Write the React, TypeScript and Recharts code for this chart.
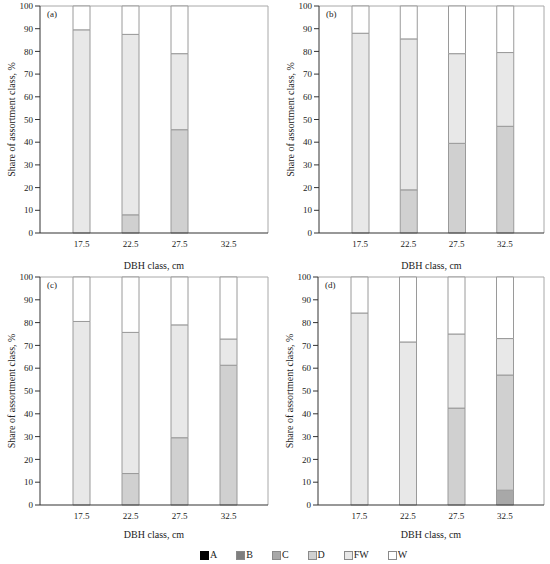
import React from "react";
import { BarChart, Bar, XAxis, YAxis, CartesianGrid } from "recharts";

const categories = ["17.5", "22.5", "27.5", "32.5"];
const seriesNames = ["A", "B", "C", "D", "FW", "W"];
const seriesColors = ["#000000", "#7f7f7f", "#a8a8a8", "#d0d0d0", "#e8e8e8", "#ffffff"];
const yTicks = [0, 10, 20, 30, 40, 50, 60, 70, 80, 90, 100];

// (a)
const aA = [0, 0, 0, 0];
const aB = [0, 0, 0, 0];
const aC = [0, 0, 0, 0];
const aD = [0, 8, 45.5, 0];
const aFW = [89.5, 79.5, 33.5, 0];
const aW = [10.5, 12.5, 21, 0];

// (b)
const bA = [0, 0, 0, 0];
const bB = [0, 0, 0, 0];
const bC = [0, 0, 0, 0];
const bD = [0, 19, 39.5, 47];
const bFW = [88, 66.5, 39.5, 32.5];
const bW = [12, 14.5, 21, 20.5];

// (c)
const cA = [0, 0, 0, 0];
const cB = [0, 0, 0, 0];
const cC = [0, 0, 0, 0];
const cD = [0, 13.8, 29.5, 61.3];
const cFW = [80.5, 61.9, 49.5, 11.5];
const cW = [19.5, 24.3, 21, 27.2];

// (d)
const dA = [0, 0, 0, 0];
const dB = [0, 0, 0, 0];
const dC = [0, 0, 0, 6.5];
const dD = [0, 0, 42.5, 50.5];
const dFW = [84.2, 71.5, 32.5, 16];
const dW = [15.8, 28.5, 25, 27];

const FONT = '"Liberation Serif", "DejaVu Serif", serif';
const TXT = "#222";

const makeRows = (cols: number[][]) =>
  categories.map((dbh, i) => {
    const row: Record<string, number | string> = { dbh };
    seriesNames.forEach((s, k) => {
      row[s] = cols[k][i];
    });
    return row;
  });

interface PanelProps {
  tag: string;
  rows: Record<string, number | string>[];
  left: number;
  top: number;
  margin: { top: number; right: number; left: number; bottom: number };
  xHeight: number;
  xLabelOffset: number;
}

function Panel({ tag, rows, left, top, margin, xHeight, xLabelOffset }: PanelProps) {
  return (
    <div style={{ position: "absolute", left, top, width: 275, height: 272 }}>
      <BarChart width={275} height={272} data={rows} margin={margin} barSize={17}>
        {/* light frame on top and right of the plot */}
        <CartesianGrid
          stroke="#a8a8a8"
          horizontalCoordinatesGenerator={({ offset }: any) => [offset.top]}
          verticalCoordinatesGenerator={({ offset }: any) => [offset.left + offset.width]}
        />
        <XAxis
          dataKey="dbh"
          height={xHeight}
          padding={{ left: 17, right: 15 }}
          tickLine={false}
          axisLine={{ stroke: "#333", strokeWidth: 1.2 }}
          tick={{ fontFamily: FONT, fontSize: 9, fill: TXT }}
          label={{
            value: "DBH class, cm",
            position: "insideBottom",
            offset: xLabelOffset,
            style: { fontFamily: FONT, fontSize: 10, fill: TXT },
          }}
        />
        <YAxis
          width={40}
          domain={[0, 100]}
          ticks={yTicks}
          interval={0}
          tickSize={5}
          tickLine={{ stroke: "#333" }}
          axisLine={{ stroke: "#333" }}
          tick={{ fontFamily: FONT, fontSize: 9, fill: TXT }}
          label={{
            value: "Share of assortment class, %",
            angle: -90,
            position: "insideLeft",
            offset: 11,
            style: { textAnchor: "middle", fontFamily: FONT, fontSize: 10, fill: TXT },
          }}
        />
        {seriesNames.map((s, k) => (
          <Bar
            key={s}
            dataKey={s}
            stackId="st"
            fill={seriesColors[k]}
            stroke="#9a9a9a"
            strokeWidth={1}
            isAnimationActive={false}
          />
        ))}
      </BarChart>
      <div
        style={{
          position: "absolute",
          left: 47 + margin.left,
          top: margin.top + 3,
          fontFamily: FONT,
          fontSize: 9,
          lineHeight: "11px",
          color: TXT,
        }}
      >
        {tag}
      </div>
    </div>
  );
}

export default function App() {
  return (
    <div
      style={{
        position: "absolute",
        left: 0,
        top: 0,
        width: 550,
        height: 564,
        background: "#fff",
        overflow: "hidden",
      }}
    >
      <Panel
        tag="(a)"
        rows={makeRows([aA, aB, aC, aD, aFW, aW])}
        left={0}
        top={0}
        margin={{ top: 6, right: 7, left: 0, bottom: 0 }}
        xHeight={39}
        xLabelOffset={3}
      />
      <Panel
        tag="(b)"
        rows={makeRows([bA, bB, bC, bD, bFW, bW])}
        left={275}
        top={0}
        margin={{ top: 6, right: 6, left: 4, bottom: 0 }}
        xHeight={39}
        xLabelOffset={3}
      />
      <Panel
        tag="(c)"
        rows={makeRows([cA, cB, cC, cD, cFW, cW])}
        left={0}
        top={270}
        margin={{ top: 7, right: 7, left: 0, bottom: 0 }}
        xHeight={37}
        xLabelOffset={4}
      />
      <Panel
        tag="(d)"
        rows={makeRows([dA, dB, dC, dD, dFW, dW])}
        left={275}
        top={270}
        margin={{ top: 7, right: 6, left: 3, bottom: 0 }}
        xHeight={37}
        xLabelOffset={4}
      />
      <div
        style={{
          position: "absolute",
          left: 200,
          top: 549,
          display: "flex",
          gap: 19,
          fontFamily: FONT,
          fontSize: 10,
          color: TXT,
          lineHeight: "12px",
        }}
      >
        {seriesNames.map((s, k) => (
          <div key={s} style={{ display: "flex", alignItems: "center", gap: 1 }}>
            <span
              style={{
                display: "inline-block",
                width: 7,
                height: 7,
                background: seriesColors[k],
                border: "1px solid " + (k === 0 ? "#000" : "#8a8a8a"),
              }}
            />
            <span>{s}</span>
          </div>
        ))}
      </div>
    </div>
  );
}
